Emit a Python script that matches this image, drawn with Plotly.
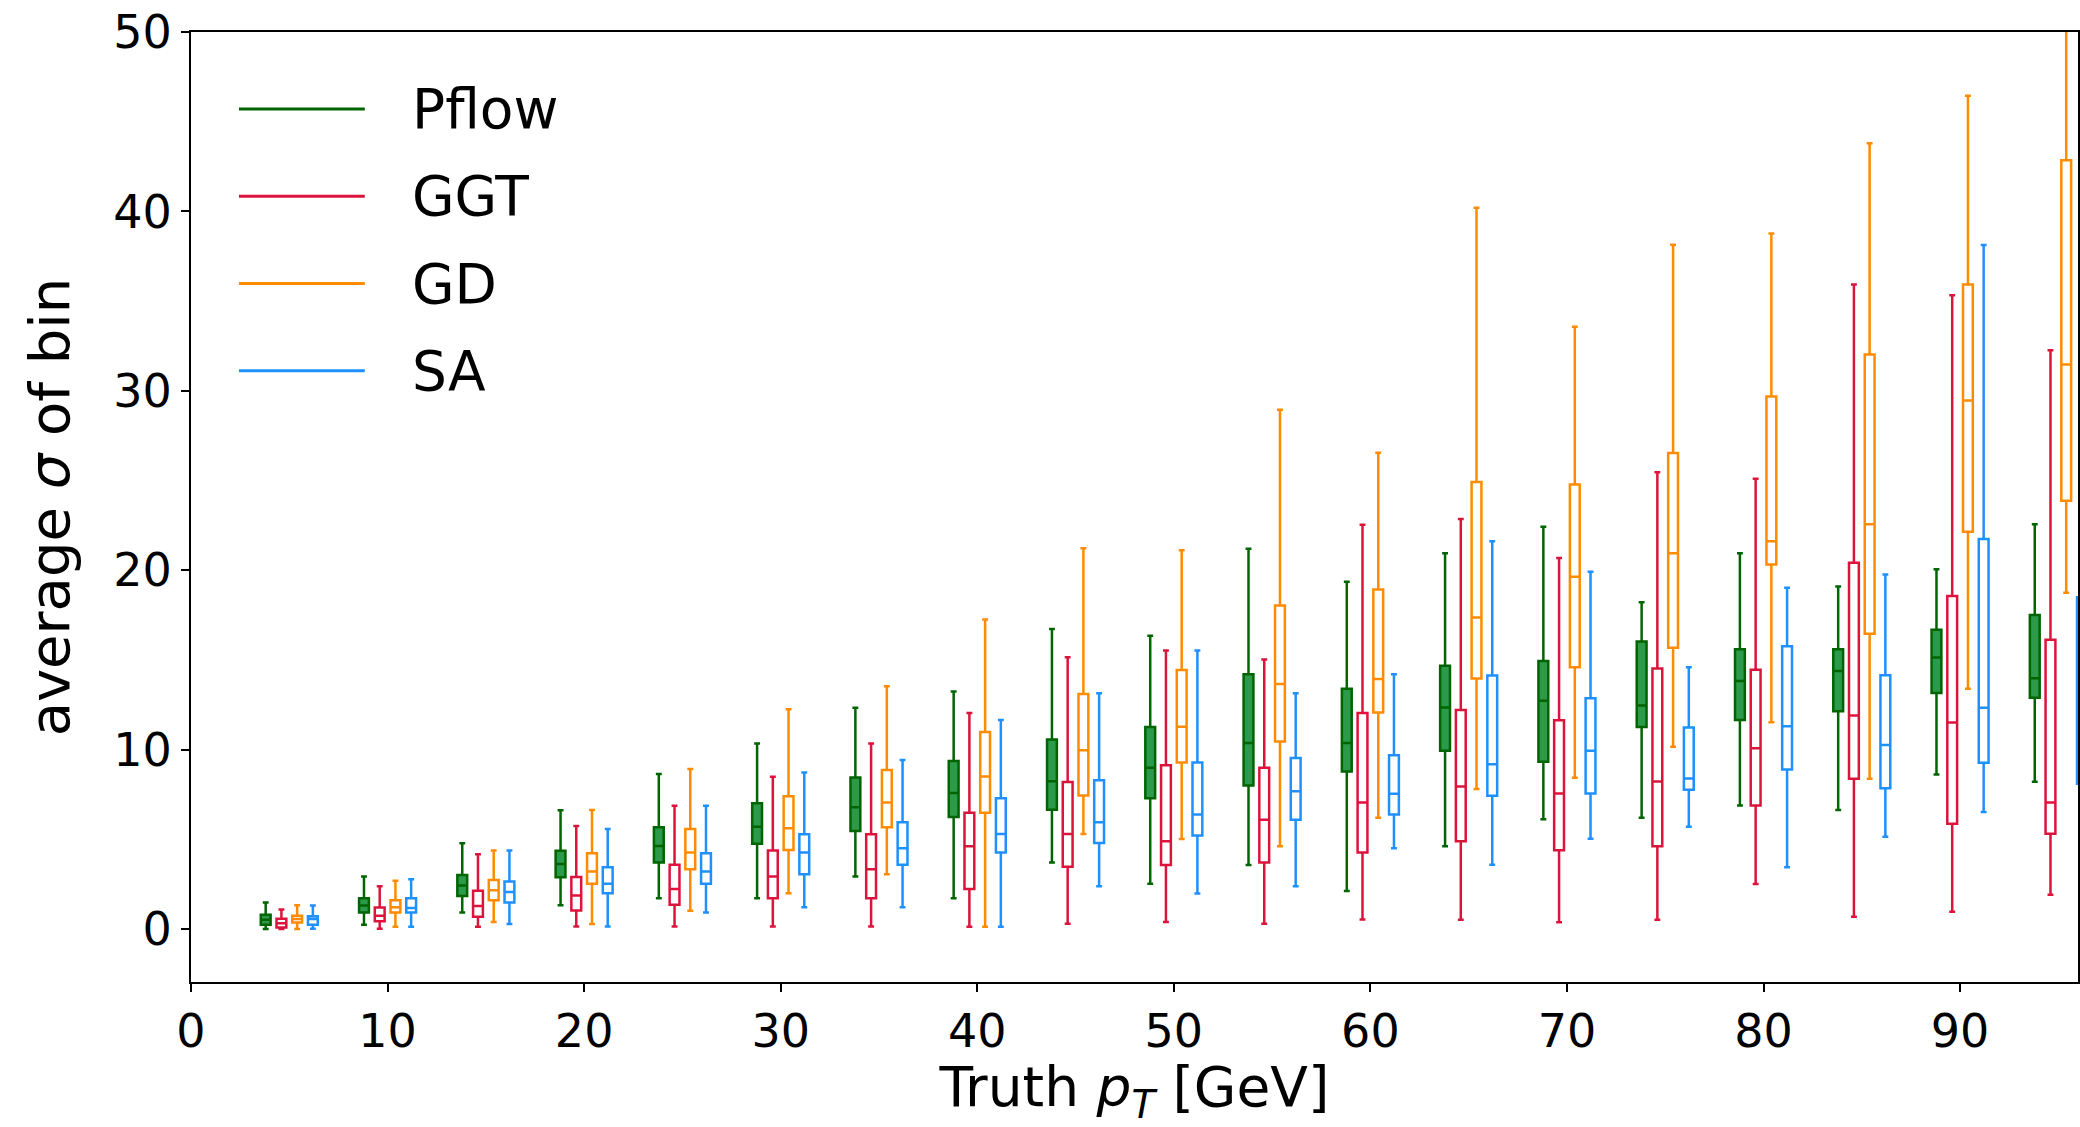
import plotly.graph_objects as go

# ---------------- data ----------------
pt_bins = [5, 10, 15, 20, 25, 30, 35, 40, 45, 50, 55, 60, 65, 70, 75, 80, 85, 90, 95]
series_names = ["Pflow", "GGT", "GD", "SA"]

# columns per bin: lower whisker, q1, median, q3, upper whisker
pflow_low = [0.0, 0.24, 0.93, 1.33, 1.72, 1.72, 2.93, 1.72, 3.71, 2.52, 3.57, 2.12, 4.62, 6.12, 6.2, 6.89, 6.63, 8.61, 8.21]
pflow_q1 = [0.24, 0.93, 1.85, 2.89, 3.71, 4.75, 5.47, 6.25, 6.65, 7.29, 8.0, 8.78, 9.94, 9.32, 11.26, 11.66, 12.14, 13.16, 12.9]
pflow_med = [0.52, 1.32, 2.43, 3.62, 4.63, 5.71, 6.79, 7.58, 8.24, 8.99, 10.37, 10.37, 12.35, 12.73, 12.46, 13.82, 14.38, 15.14, 13.98]
pflow_q3 = [0.80, 1.72, 3.02, 4.36, 5.67, 7.01, 8.45, 9.37, 10.56, 11.26, 14.2, 13.4, 14.67, 14.94, 16.03, 15.6, 15.6, 16.69, 17.51]
pflow_high = [1.48, 2.93, 4.78, 6.62, 8.64, 10.34, 12.33, 13.24, 16.72, 16.35, 21.2, 19.36, 20.95, 22.43, 18.22, 20.95, 19.1, 20.06, 22.56]

ggt_low = [0.0, 0.02, 0.13, 0.15, 0.15, 0.15, 0.15, 0.13, 0.29, 0.39, 0.29, 0.53, 0.52, 0.38, 0.52, 2.51, 0.69, 0.96, 1.91]
ggt_q1 = [0.09, 0.43, 0.69, 1.04, 1.35, 1.72, 1.72, 2.24, 3.47, 3.57, 3.71, 4.27, 4.89, 4.4, 4.62, 6.89, 8.38, 5.87, 5.31]
ggt_med = [0.33, 0.74, 1.28, 1.87, 2.24, 2.93, 3.34, 4.62, 5.3, 4.9, 6.1, 7.05, 7.95, 7.56, 8.22, 10.08, 11.91, 11.51, 7.06]
ggt_q3 = [0.57, 1.2, 2.13, 2.9, 3.58, 4.38, 5.28, 6.49, 8.2, 9.13, 8.99, 12.05, 12.21, 11.64, 14.53, 14.45, 20.42, 18.57, 16.13]
ggt_high = [1.09, 2.39, 4.17, 5.74, 6.88, 8.49, 10.34, 12.05, 15.15, 15.53, 15.03, 22.54, 22.86, 20.68, 25.46, 25.1, 35.92, 35.33, 32.26]

gd_low = [0.0, 0.13, 0.39, 0.28, 1.02, 2.0, 3.06, 0.13, 5.3, 5.02, 4.62, 6.2, 7.81, 8.44, 10.16, 11.53, 8.38, 13.39, 18.74]
gd_q1 = [0.37, 0.93, 1.6, 2.52, 3.34, 4.41, 5.67, 6.49, 7.45, 9.29, 10.46, 12.07, 13.96, 14.59, 15.68, 20.32, 16.46, 22.14, 23.88]
gd_med = [0.56, 1.22, 2.17, 3.21, 4.27, 5.62, 7.06, 8.5, 9.97, 11.28, 13.66, 13.94, 17.37, 19.64, 20.95, 21.61, 22.56, 29.46, 31.47]
gd_q3 = [0.74, 1.6, 2.74, 4.23, 5.58, 7.41, 8.86, 10.98, 13.1, 14.44, 18.03, 18.93, 24.92, 24.78, 26.53, 29.69, 32.03, 35.92, 42.85]
gd_high = [1.33, 2.69, 4.38, 6.64, 8.92, 12.25, 13.53, 17.26, 21.23, 21.11, 28.94, 26.55, 40.2, 33.57, 38.14, 38.77, 43.8, 46.45, 53.0]

sa_low = [0.02, 0.13, 0.28, 0.15, 0.93, 1.21, 1.21, 0.13, 2.38, 1.98, 2.38, 4.5, 3.58, 5.03, 5.71, 3.44, 5.14, 6.53, 4.5]
sa_q1 = [0.24, 0.93, 1.48, 2.0, 2.52, 3.06, 3.58, 4.27, 4.8, 5.22, 6.1, 6.39, 7.43, 7.56, 7.76, 8.9, 7.85, 9.27, 8.1]
sa_med = [0.56, 1.17, 2.06, 2.52, 3.21, 4.27, 4.5, 5.3, 5.96, 6.39, 7.68, 7.54, 9.18, 9.94, 8.39, 11.31, 10.26, 12.34, 13.4]
sa_q3 = [0.72, 1.72, 2.65, 3.45, 4.23, 5.28, 5.95, 7.29, 8.3, 9.29, 9.53, 9.69, 14.13, 12.87, 11.23, 15.76, 14.15, 21.74, 18.5]
sa_high = [1.32, 2.78, 4.38, 5.58, 6.88, 8.73, 9.42, 11.66, 13.15, 15.53, 13.15, 14.2, 21.61, 19.92, 14.59, 19.02, 19.76, 38.13, 27.0]

x_ticks = [0, 10, 20, 30, 40, 50, 60, 70, 80, 90]
y_ticks = [0, 10, 20, 30, 40, 50]

# ---------------- styling ----------------
offsets = [-1.2, -0.4, 0.4, 1.2]
line_colors = ["#006400", "#DC143C", "#FF8C00", "#1E90FF"]
fill_colors = ["#2b9a4b", "rgba(255,255,255,0)", "rgba(255,255,255,0)", "rgba(255,255,255,0)"]
FONT = "DejaVu Sans"

stats = [
    (pflow_low, pflow_q1, pflow_med, pflow_q3, pflow_high),
    (ggt_low, ggt_q1, ggt_med, ggt_q3, ggt_high),
    (gd_low, gd_q1, gd_med, gd_q3, gd_high),
    (sa_low, sa_q1, sa_med, sa_q3, sa_high),
]

fig = go.Figure()
for name, off, lc, fc, (lo, q1, med, q3, hi) in zip(series_names, offsets, line_colors, fill_colors, stats):
    fig.add_trace(go.Box(
        name=name,
        x=[b + off for b in pt_bins],
        lowerfence=lo, q1=q1, median=med, q3=q3, upperfence=hi,
        width=0.5, whiskerwidth=0.6,
        line=dict(color=lc, width=2.5),
        fillcolor=fc,
        boxpoints=False,
        showlegend=False,
        hoverinfo="skip",
    ))

# legend drawn as long line samples like the original
leg_x0, leg_x1, leg_tx = 0.0254, 0.0921, 0.116
leg_y0, leg_dy = 0.919, 0.0919
for i, (name, lc) in enumerate(zip(series_names, line_colors)):
    yy = leg_y0 - i * leg_dy
    fig.add_shape(type="line", xref="paper", yref="paper", x0=leg_x0, x1=leg_x1, y0=yy, y1=yy,
                  line=dict(color=lc, width=3))
    fig.add_annotation(xref="paper", yref="paper", x=leg_tx, y=yy, text=name, showarrow=False,
                       xanchor="left", yanchor="middle", font=dict(family=FONT, size=55, color="black"))

axis_common = dict(
    showline=True, linecolor="black", linewidth=2, mirror=True,
    ticks="outside", ticklen=8, tickwidth=2, tickcolor="black",
    showgrid=False, zeroline=False,
    tickfont=dict(family=FONT, size=46, color="black"),
)

fig.update_layout(
    width=2080, height=1127,
    margin=dict(l=191, r=0, t=32, b=143),
    paper_bgcolor="white", plot_bgcolor="white",
    boxmode="overlay",
    xaxis=dict(range=[0, 96.0], tickvals=x_ticks,
               title=dict(text="Truth <i>p</i><sub><i>T</i></sub> [GeV]", standoff=30,
                          font=dict(family=FONT, size=55, color="black")),
               **axis_common),
    yaxis=dict(range=[-2.95, 50], tickvals=y_ticks,
               title=dict(text="average <i>σ</i> of bin", standoff=26,
                          font=dict(family=FONT, size=56, color="black")),
               **axis_common),
)

fig.write_html("out.html")
